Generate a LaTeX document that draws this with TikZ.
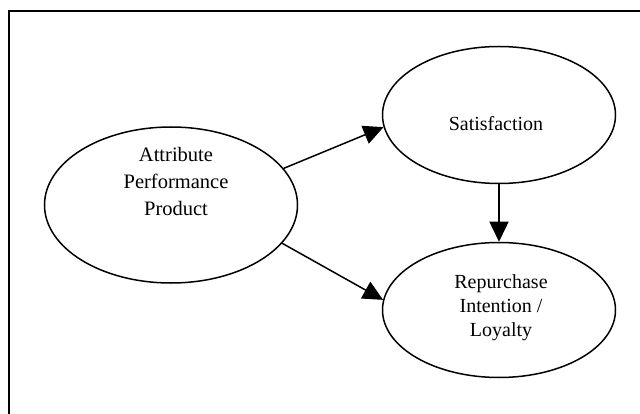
\documentclass[tikz,border=0pt]{standalone}
\usepackage{fontspec}
\setmainfont{Liberation Serif}
\usetikzlibrary{shapes.geometric,arrows.meta}

\tikzset{
  construct/.style={ellipse, draw, line width=1.5pt, inner sep=0pt, align=center},
  path/.style={line width=1.5pt, -{Triangle[length=20pt,width=19pt]}},
  frame/.style={line width=1.5pt}
}

\begin{document}
\begin{tikzpicture}[x=1pt,y=-1pt]
  \useasboundingbox (0,0) rectangle (640,414);
  \clip (0,0) rectangle (640,414);

  % outer frame (open to the right and bottom)
  \draw[frame] (9,430) -- (9,11) -- (660,11);

  % constructs
  \node[construct, minimum width=253pt, minimum height=156pt] (A) at (171,205) {};
  \node[font=\fontsize{20.5}{27}\selectfont, align=center] (Atxt) at (176,181)
    {Attribute\\Performance\\Product};

  \node[construct, minimum width=233pt, minimum height=137pt] (S) at (499,115) {};
  \node[font=\fontsize{20}{24}\selectfont] (Stxt) at (496,124) {Satisfaction};

  \node[construct, minimum width=233pt, minimum height=135pt] (R) at (499,310) {};
  \node[font=\fontsize{20}{24}\selectfont, align=center] (Rtxt) at (501,308)
    {Repurchase\\Intention /\\Loyalty};

  % relationships
  \draw[path] (A.18) -- (S.186);
  \draw[path] (A.341) -- (R.175);
  \draw[path] (S.south) -- (R.north);
\end{tikzpicture}
\end{document}
